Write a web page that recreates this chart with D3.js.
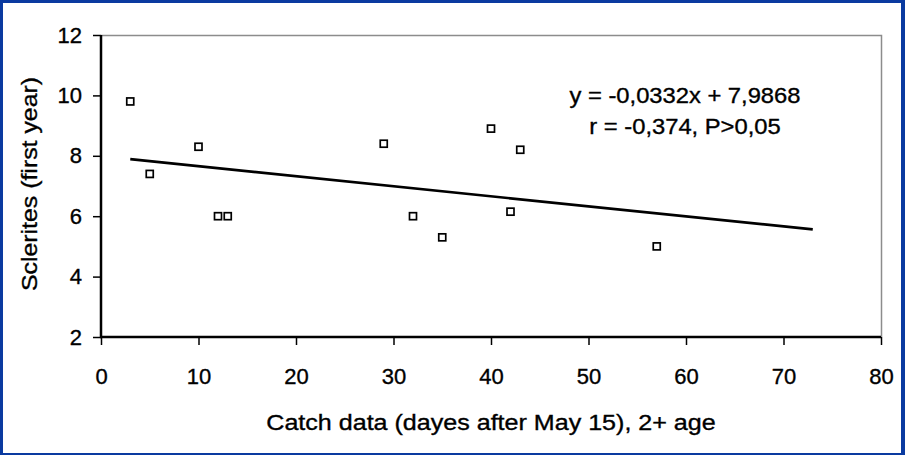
<!DOCTYPE html>
<html>
<head>
<meta charset="utf-8">
<script src="https://cdn.jsdelivr.net/npm/d3@7"></script>
<style>
  html, body { margin: 0; padding: 0; background: #fff; }
  svg { display: block; }
  text { font-family: Arial, "Liberation Sans", sans-serif; fill: #000; stroke: #000; stroke-width: 0.35px; }
</style>
</head>
<body>
<svg id="svg" width="905" height="455"></svg>
<script>
(function() {
  'use strict';

  // catch day (days after May 15) and sclerites in first year
  var days      = [3, 5, 10, 12, 13, 29, 32, 35, 40, 42, 43, 57];
  var sclerites = [9.8, 7.4, 8.3, 6.0, 6.0, 8.4, 6.0, 5.3, 8.9, 6.15, 8.2, 5.0];

  // regression y = -0,0332x + 7,9868, drawn from 3 to 73
  var slope = -0.0332, intercept = 7.9868;
  var trendX = [3, 73];

  var xTicks = [0, 10, 20, 30, 40, 50, 60, 70, 80];
  var yTicks = [2, 4, 6, 8, 10, 12];

  var eqLines = ["y = -0,0332x + 7,9868", "r = -0,374, P>0,05"];

  var svg = d3.select("#svg");

  // blue frame around the picture
  svg.append("rect")
    .attr("width", 905).attr("height", 455)
    .attr("fill", "#0a3aa0");
  svg.append("rect")
    .attr("x", 3).attr("y", 3)
    .attr("width", 898).attr("height", 450)
    .attr("fill", "#fff");

  var left = 101, right = 881, top = 35, bottom = 337;

  var x = d3.scaleLinear().domain([0, 80]).range([left, right]);
  var y = d3.scaleLinear().domain([2, 12]).range([bottom, top]);

  // grey plot frame (top + right)
  svg.append("path")
    .attr("d", "M" + left + "," + (top + 0.5) + "H" + (right + 0.5) + "V" + bottom)
    .attr("fill", "none")
    .attr("stroke", "#8c8c8c")
    .attr("stroke-width", 1.5);

  // axes
  var xAxis = svg.append("g")
    .attr("transform", "translate(0," + bottom + ")")
    .call(d3.axisBottom(x).tickValues(xTicks).tickSize(8).tickPadding(23).tickSizeOuter(0));

  var yAxis = svg.append("g")
    .attr("transform", "translate(" + left + ",0)")
    .call(d3.axisLeft(y).tickValues(yTicks).tickSize(8).tickPadding(11).tickSizeOuter(0));

  [xAxis, yAxis].forEach(function(ax) {
    ax.select(".domain").attr("stroke", "#000").attr("stroke-width", 2.5);
    ax.selectAll(".tick line").attr("stroke", "#000").attr("stroke-width", 1.5);
    ax.selectAll(".tick text")
      .attr("fill", "#000")
      .style("font-size", "22px")
      .style("font-family", "Arial, 'Liberation Sans', sans-serif");
  });
  xAxis.select(".domain").attr("d", "M" + (left - 1) + ",0H" + right);
  yAxis.select(".domain").attr("d", "M0," + top + "V" + (bottom + 1));

  // trend line
  var line = d3.line()
    .x(function(d) { return x(d); })
    .y(function(d) { return y(slope * d + intercept); });

  svg.append("path")
    .attr("d", line(trendX))
    .attr("fill", "none")
    .attr("stroke", "#000")
    .attr("stroke-width", 2.7);

  // markers
  var s = 7;
  svg.append("g").selectAll("rect")
    .data(days)
    .enter().append("rect")
    .attr("x", function(d) { return x(d) - s / 2; })
    .attr("y", function(d, i) { return y(sclerites[i]) - s / 2; })
    .attr("width", s).attr("height", s)
    .attr("fill", "#fff")
    .attr("stroke", "#000")
    .attr("stroke-width", 1.7);

  // equation (text in the original is a bit wider than plain Arial)
  svg.append("g").selectAll("text")
    .data(eqLines)
    .enter().append("text")
    .attr("transform", function(d, i) {
      return "translate(685," + (103 + i * 31) + ") scale(1.08,1)";
    })
    .attr("text-anchor", "middle")
    .style("font-size", "22px")
    .text(function(d) { return d; });

  // axis titles
  svg.append("text")
    .attr("transform", "translate(" + ((left + right) / 2) + ",430) scale(1.14,1)")
    .attr("text-anchor", "middle")
    .style("font-size", "22px")
    .text("Catch data (dayes after May 15), 2+ age");

  svg.append("text")
    .attr("transform", "translate(37," + ((top + bottom) / 2 - 2) + ") rotate(-90) scale(1.13,1)")
    .attr("text-anchor", "middle")
    .style("font-size", "22px")
    .text("Sclerites (first year)");
}());
</script>
</body>
</html>
